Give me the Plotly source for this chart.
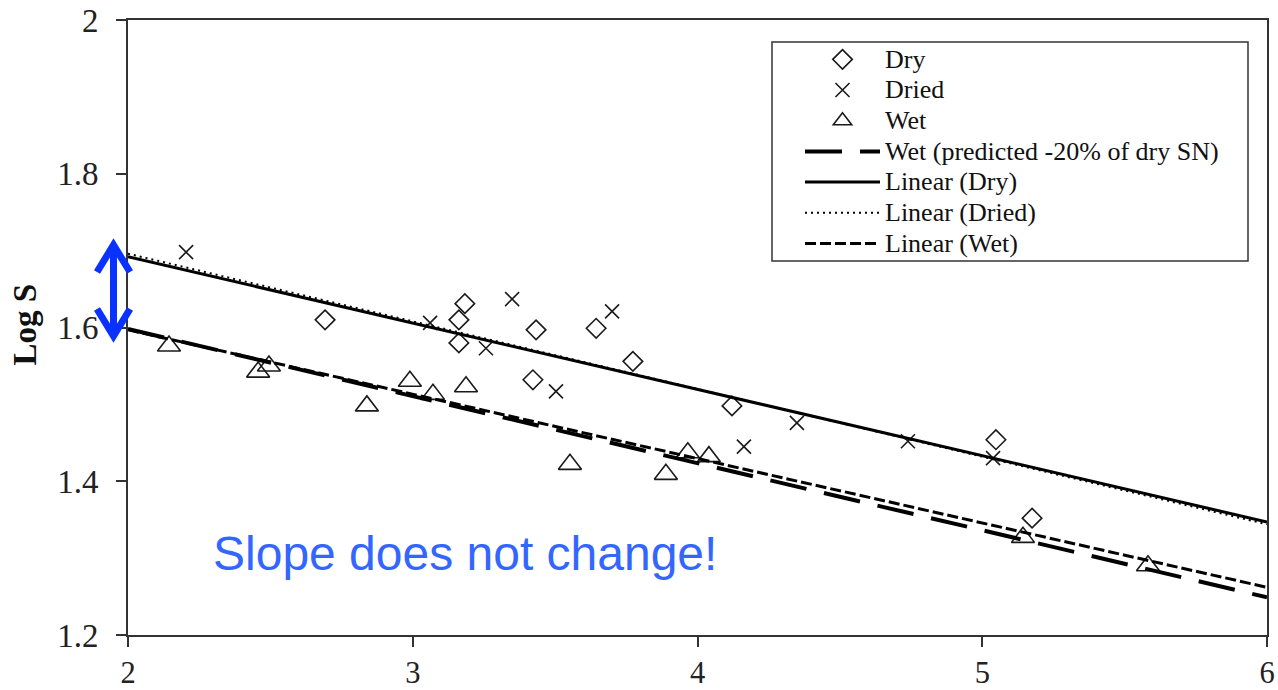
import plotly.graph_objects as go

# ---- data ----
dry_x = [2.692, 3.183, 3.162, 3.162, 3.433, 3.422, 3.644, 3.773, 4.121, 5.048, 5.175]
dry_y = [1.610, 1.631, 1.610, 1.580, 1.597, 1.532, 1.599, 1.556, 1.498, 1.454, 1.352]

dried_x = [2.204, 3.061, 3.349, 3.700, 3.257, 3.503, 4.163, 4.349, 4.739, 5.038]
dried_y = [1.698, 1.606, 1.637, 1.621, 1.573, 1.517, 1.445, 1.476, 1.452, 1.430]

wet_x = [2.144, 2.457, 2.495, 2.839, 2.990, 3.071, 3.187, 3.552, 3.889, 3.966, 4.040, 5.143, 5.582]
wet_y = [1.576, 1.542, 1.550, 1.498, 1.530, 1.513, 1.523, 1.422, 1.409, 1.437, 1.432, 1.327, 1.290]

trend_x = [2, 6]
wet_pred_y = [1.598, 1.249]
lin_dry_y = [1.692, 1.347]
lin_dried_y = [1.696, 1.344]
lin_wet_y = [1.597, 1.262]

x_ticks = [2, 3, 4, 5, 6]
y_ticks = [1.2, 1.4, 1.6, 1.8, 2.0]
y_tick_text = ["1.2", "1.4", "1.6", "1.8", "2"]

SERIF = "Liberation Serif"
INK = "#1a1a1a"


def leg(name):
    return f"<span style='font-size:26px'>{name}</span>"


fig = go.Figure()
fig.add_trace(go.Scatter(x=dry_x, y=dry_y, mode="markers", name=leg("Dry"),
                         marker=dict(symbol="diamond-open", size=15, color=INK,
                                     line=dict(width=1.6, color=INK))))
fig.add_trace(go.Scatter(x=dried_x, y=dried_y, mode="markers", name=leg("Dried"),
                         marker=dict(symbol="x-thin-open", size=14, color=INK,
                                     line=dict(width=1.6, color=INK))))
fig.add_trace(go.Scatter(x=wet_x, y=wet_y, mode="markers", name=leg("Wet"),
                         marker=dict(symbol="triangle-up-open", size=20, color=INK,
                                     line=dict(width=1.6, color=INK))))
fig.add_trace(go.Scatter(x=trend_x, y=wet_pred_y, mode="lines",
                         name=leg("Wet (predicted -20% of dry SN)"),
                         line=dict(color="black", width=4, dash="37px,18px")))
fig.add_trace(go.Scatter(x=trend_x, y=lin_dry_y, mode="lines", name=leg("Linear (Dry)"),
                         line=dict(color="black", width=3)))
fig.add_trace(go.Scatter(x=trend_x, y=lin_dried_y, mode="lines", name=leg("Linear (Dried)"),
                         line=dict(color="black", width=2, dash="2px,4px")))
fig.add_trace(go.Scatter(x=trend_x, y=lin_wet_y, mode="lines", name=leg("Linear (Wet)"),
                         line=dict(color="black", width=3, dash="11px,4px")))

axis_common = dict(showgrid=False, zeroline=False, showline=True, linecolor="#333333",
                   linewidth=1.6, mirror=True, ticks="outside", ticklen=10,
                   tickwidth=1.5, tickcolor="#333333", automargin=False)

fig.update_xaxes(range=[2, 6], tickvals=x_ticks, ticklabelstandoff=0,
                 tickfont=dict(family=SERIF, size=30.5, color="#222222"), **axis_common)
fig.update_yaxes(range=[1.2, 2.0], tickvals=y_ticks, ticktext=y_tick_text,
                 ticklabelstandoff=11,
                 tickfont=dict(family=SERIF, size=33, color="#222222"), **axis_common)


def px2x(p):
    return (p - 128) / 1139.0


def py2y(p):
    return (635 - p) / 615.0


# legend frame
fig.add_shape(type="rect", xref="paper", yref="paper",
              x0=px2x(772), x1=px2x(1248), y0=py2y(261), y1=py2y(42),
              line=dict(color="#333333", width=1.5), fillcolor="white", layer="above")

# blue double-headed arrow (left margin)
ax_ = 113.5
top, bot = 245, 336
arm_dx, arm_dy = 16.5, 27
path = (f"M{px2x(ax_)},{py2y(top)} L{px2x(ax_)},{py2y(bot)} "
        f"M{px2x(ax_-arm_dx)},{py2y(top+arm_dy)} L{px2x(ax_)},{py2y(top)} L{px2x(ax_+arm_dx)},{py2y(top+arm_dy)} "
        f"M{px2x(ax_-arm_dx)},{py2y(bot-arm_dy)} L{px2x(ax_)},{py2y(bot)} L{px2x(ax_+arm_dx)},{py2y(bot-arm_dy)}")
fig.add_shape(type="path", path=path, xref="paper", yref="paper",
              line=dict(color="#0a32ff", width=7), layer="above")

fig.add_annotation(text="Slope does not change!", xref="paper", yref="paper",
                   x=px2x(465), y=py2y(553), xanchor="center", yanchor="middle",
                   showarrow=False,
                   font=dict(family="Liberation Sans", size=48, color="#3366ff"))

fig.add_annotation(text="<b>Log S</b>", xref="paper", yref="paper",
                   x=px2x(24), y=py2y(324.5), xanchor="center", yanchor="middle",
                   textangle=-90, showarrow=False,
                   font=dict(family=SERIF, size=33, color="#111111"))

fig.update_layout(
    width=1278, height=690,
    margin=dict(l=128, r=11, t=20, b=55),
    paper_bgcolor="white", plot_bgcolor="white",
    showlegend=True,
    legend=dict(x=px2x(800), y=py2y(39), xanchor="left", yanchor="top",
                bgcolor="rgba(0,0,0,0)", borderwidth=0,
                itemwidth=75,
                font=dict(family=SERIF, size=21.3, color="#111111")),
)

fig.write_html("out.html")
